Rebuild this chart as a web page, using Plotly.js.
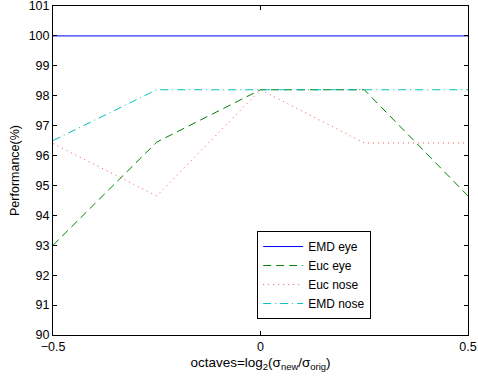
<!DOCTYPE html>
<html><head><meta charset="utf-8">
<script src="https://cdn.plot.ly/plotly-3.0.1.min.js"></script>
<style>html,body{margin:0;padding:0;background:#fff}</style>
</head><body>
<div id="chart" style="width:478px;height:382px"></div>
<script>
const octaves = [-0.5, -0.25, 0, 0.25, 0.5];
const emdEye = [100, 100, 100, 100, 100];
const eucEye = [93.0, 96.45, 98.2, 98.2, 94.65];
const eucNose = [96.4, 94.65, 98.2, 96.42, 96.42];
const emdNose = [96.5, 98.2, 98.2, 98.2, 98.2];
const seriesNames = ["EMD eye", "Euc eye", "Euc nose", "EMD nose"];
const xTicks = [-0.5, 0, 0.5];
const xTickText = ["\u22120.5", "0", "0.5"];
const yTicks = [90, 91, 92, 93, 94, 95, 96, 97, 98, 99, 100, 101];

const font = {family: "Liberation Sans, Arial, sans-serif", size: 12.5, color: "#000"};
const legendFont = {family: "Liberation Sans, Arial, sans-serif", size: 12, color: "#000"};
const titleFont = {family: "Liberation Sans, Arial, sans-serif", size: 13.5, color: "#000"};
const traces = [
  {x: octaves, y: emdEye, name: seriesNames[0], mode: "lines", line: {color: "#0000ff", width: 1}},
  {x: octaves, y: eucEye, name: seriesNames[1], mode: "lines", line: {color: "#008000", width: 1, dash: "8px,5px"}},
  {x: octaves, y: eucNose, name: seriesNames[2], mode: "lines", line: {color: "#ff5050", width: 1, dash: "1px,4px"}},
  {x: octaves, y: emdNose, name: seriesNames[3], mode: "lines", line: {color: "#00bfbf", width: 1, dash: "8px,4px,1px,4px"}}
];
const layout = {
  width: 478, height: 382,
  margin: {l: 53, r: 10, t: 6, b: 47},
  paper_bgcolor: "#fff", plot_bgcolor: "#fff",
  font: font,
  showlegend: true,
  legend: {x: 0.492, y: 0.316, xanchor: "left", yanchor: "top", bgcolor: "#fff",
           bordercolor: "#000", borderwidth: 1, font: legendFont, tracegroupgap: 0, itemwidth: 40},
  xaxis: {range: [-0.5, 0.5], tickvals: xTicks, ticktext: xTickText, ticks: "inside", ticklen: 4,
          tickcolor: "#000", showline: true, linecolor: "#000", linewidth: 1, mirror: "ticks",
          showgrid: false, zeroline: false, tickfont: font, ticklabeloverflow: "allow",
          title: {text: "octaves=log<sub>2</sub>(\u03c3<sub>new</sub>/\u03c3<sub>orig</sub>)", font: titleFont, standoff: 4}},
  yaxis: {range: [90, 101], tickvals: yTicks, ticks: "inside", ticklen: 4,
          tickcolor: "#000", showline: true, linecolor: "#000", linewidth: 1, mirror: "ticks",
          showgrid: false, zeroline: false, tickfont: font, ticklabeloverflow: "allow",
          title: {text: "Performance(%)", font: font, standoff: 6}}
};
Plotly.newPlot("chart", traces, layout, {staticPlot: true, displayModeBar: false});
</script>
</body></html>
